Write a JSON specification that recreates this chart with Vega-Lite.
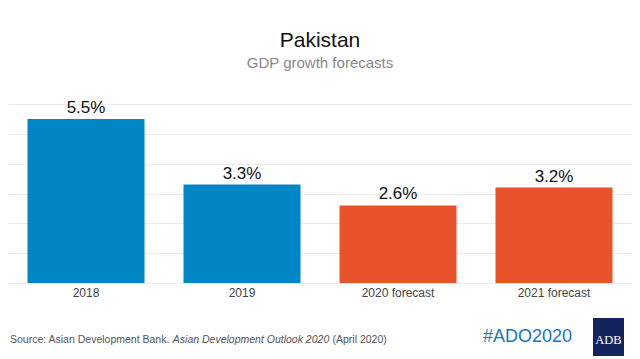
{
  "$schema": "https://vega.github.io/schema/vega-lite/v6.json",
  "width": 624,
  "height": 179,
  "autosize": {"type": "none"},
  "padding": {"left": 8, "top": 104, "right": 8, "bottom": 76},
  "background": "white",
  "config": {"view": {"stroke": null}, "font": "Liberation Sans"},
  "title": {
    "text": "Pakistan",
    "subtitle": "GDP growth forecasts",
    "font": "Liberation Sans",
    "subtitleFont": "Liberation Sans",
    "fontSize": 21,
    "fontWeight": "normal",
    "color": "#111111",
    "subtitleFontSize": 15,
    "subtitleColor": "#888888",
    "anchor": "middle",
    "offset": 28,
    "subtitlePadding": 5
  },
  "layer": [
    {
      "data": {"name": "gdp", "values": [
        {"year": "2018", "growth": 5.5, "type": "Actual"},
        {"year": "2019", "growth": 3.3, "type": "Actual"},
        {"year": "2020 forecast", "growth": 2.6, "type": "Forecast"},
        {"year": "2021 forecast", "growth": 3.2, "type": "Forecast"}
      ]},
      "transform": [{"calculate": "format(datum.growth, '.1f') + '%'", "as": "label"}],
      "encoding": {
        "x": {
          "field": "year", "type": "nominal", "sort": null,
          "scale": {"paddingInner": 0.25, "paddingOuter": 0.125},
          "axis": {"title": null, "labelAngle": 0, "ticks": false, "domain": false, "labelPadding": 4, "labelFontSize": 12, "labelColor": "#444444", "labelFont": "Liberation Sans"}
        },
        "y": {
          "field": "growth", "type": "quantitative",
          "scale": {"domain": [0, 6], "nice": false},
          "axis": {"title": null, "labels": false, "ticks": false, "domain": false, "values": [0, 1, 2, 3, 4, 5, 6], "grid": true, "gridColor": "#ebebeb", "gridWidth": 1}
        }
      },
      "layer": [
        {
          "mark": {"type": "bar"},
          "encoding": {
            "color": {"field": "type", "type": "nominal", "scale": {"domain": ["Actual", "Forecast"], "range": ["#0086C5", "#E8532B"]}, "legend": null}
          }
        },
        {
          "mark": {"type": "text", "baseline": "alphabetic", "dy": -6, "fontSize": 17, "color": "#111111", "font": "Liberation Sans"},
          "encoding": {"text": {"field": "label"}}
        }
      ]
    },
    {
      "data": {"values": [{"t": "Source: Asian Development Bank."}]},
      "mark": {"type": "text", "align": "left", "baseline": "alphabetic", "fontSize": 10.5, "color": "#555555", "font": "Liberation Sans"},
      "encoding": {"x": {"value": 2}, "y": {"value": 239}, "text": {"field": "t"}}
    },
    {
      "data": {"values": [{"t": "Asian Development Outlook 2020"}]},
      "mark": {"type": "text", "align": "left", "baseline": "alphabetic", "fontSize": 10.5, "fontStyle": "italic", "color": "#555555", "font": "Liberation Sans"},
      "encoding": {"x": {"value": 164.8}, "y": {"value": 239}, "text": {"field": "t"}}
    },
    {
      "data": {"values": [{"t": "(April 2020)"}]},
      "mark": {"type": "text", "align": "left", "baseline": "alphabetic", "fontSize": 10.5, "color": "#555555", "font": "Liberation Sans"},
      "encoding": {"x": {"value": 324.5}, "y": {"value": 239}, "text": {"field": "t"}}
    },
    {
      "data": {"values": [{"t": "#ADO2020"}]},
      "mark": {"type": "text", "align": "left", "baseline": "alphabetic", "fontSize": 18, "color": "#1B75BC", "font": "Liberation Sans"},
      "encoding": {"x": {"value": 475}, "y": {"value": 238}, "text": {"field": "t"}}
    },
    {
      "data": {"values": [{"t": "ADB"}]},
      "mark": {"type": "rect", "color": "#13235E"},
      "encoding": {"x": {"value": 585}, "x2": {"value": 616}, "y": {"value": 214}, "y2": {"value": 252}}
    },
    {
      "data": {"values": [{"t": "ADB"}]},
      "mark": {"type": "text", "align": "center", "baseline": "alphabetic", "fontSize": 12.5, "color": "#ffffff", "font": "Liberation Serif"},
      "encoding": {"x": {"value": 600.5}, "y": {"value": 240}, "text": {"field": "t"}}
    }
  ]
}
